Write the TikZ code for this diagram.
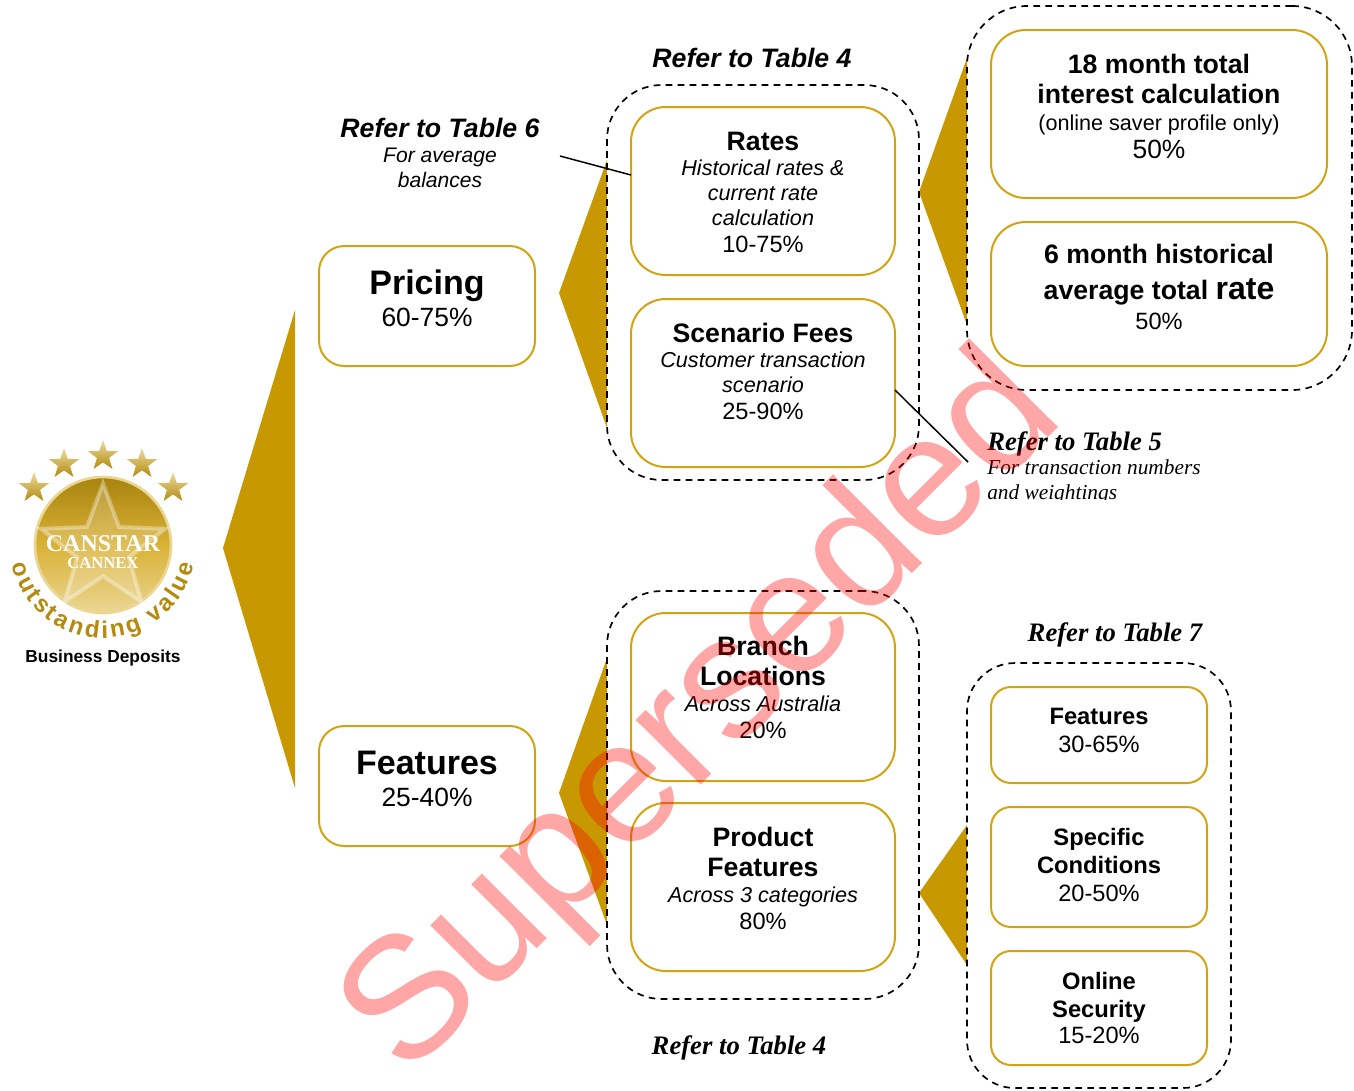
\documentclass[tikz,border=0pt]{standalone}
\usepackage{fontspec}
\setmainfont{Liberation Sans}
\newfontfamily\serifx{Liberation Serif}
\usetikzlibrary{shapes.geometric,decorations.text}
\definecolor{gold}{HTML}{C89800}
\definecolor{goldline}{HTML}{D2A412}
\newcommand\NS{\spaceskip=.278em\relax}
\newcommand\FB{\fontsize{20}{22.5}\selectfont\upshape\bfseries\NS}
\newcommand\FBB{\fontsize{25.5}{27}\selectfont\upshape\bfseries\NS}
\newcommand\FI{\fontsize{16.2}{18.75}\selectfont\mdseries\itshape\NS}
\newcommand\FP{\fontsize{17.7}{19.5}\selectfont\mdseries\upshape\NS}
\newcommand\FPP{\fontsize{19.8}{20}\selectfont\mdseries\upshape\NS}
\newcommand\FT{\fontsize{17.8}{21}\selectfont\upshape\bfseries\NS}
\newcommand\FR{\fontsize{16.2}{18.75}\selectfont\mdseries\upshape\NS}
\newcommand\dnx[1]{\rule[-#1pt]{0pt}{0pt}}
\newcommand\upx[1]{\rule{0pt}{#1pt}}
\tikzset{
  box/.style={draw=goldline,line width=1.5pt,fill=white,inner sep=0pt,outer sep=0pt,align=center,text width=190pt,font=\fontsize{17.7}{20}\selectfont},
  bigr/.style={box,rounded corners=19pt,minimum width=162pt,minimum height=90pt,text width=150pt},
  midr/.style={box,rounded corners=26pt,minimum width=198pt,minimum height=126pt},
  wider/.style={box,rounded corners=26pt,minimum width=252pt,text width=240pt},
  smallr/.style={box,rounded corners=15pt,minimum width=162pt,text width=150pt},
  dash group/.style={draw=black,line width=1.25pt,dash pattern=on 5pt off 4pt,inner sep=0pt,outer sep=0pt},
  tri/.style={fill=gold,draw=none},
  leader/.style={draw=black,line width=1.1pt},
  refsans/.style={font=\fontsize{20}{22}\selectfont\bfseries\itshape,inner sep=0pt,align=center},
  subsans/.style={font=\fontsize{15.8}{18.75}\selectfont\itshape,inner sep=0pt,align=center},
  refserif/.style={font=\serifx\fontsize{20}{22}\selectfont\bfseries\itshape,inner sep=0pt},
  subserif/.style={font=\serifx\fontsize{16}{18.75}\selectfont\itshape,inner sep=0pt,align=left},
  logostar/.style={star,star points=5,star point ratio=2.5,inner sep=0pt,minimum size=24pt,
     top color=#1,bottom color=goldline!85!black,draw=none},
}
\begin{document}
\begin{tikzpicture}[x=.75pt,y=-.75pt]
\useasboundingbox (0,0) rectangle (1354,1090);
\fill[white] (0,0) rectangle (1354,1090);

% triangles
\fill[tri] (295,310) -- (223,548) -- (295,788) -- cycle;
\fill[tri] (607,160) -- (559,293) -- (607,428) -- cycle;
\fill[tri] (607,658) -- (559,793) -- (607,925) -- cycle;
\fill[tri] (967,58) -- (919,192) -- (967,325) -- cycle;
\fill[tri] (967,825) -- (919,893) -- (967,965) -- cycle;

% dashed groups
\node[dash group,rounded corners=41pt,minimum width=234pt,minimum height=296.25pt] (g1) at (763,282.5) {};
\node[dash group,rounded corners=41pt,minimum width=234pt,minimum height=306pt] (g2) at (763,795) {};
\node[dash group,rounded corners=45pt,minimum width=288.75pt,minimum height=288pt] (g3) at (1159.5,198) {};
\node[dash group,rounded corners=36pt,minimum width=198pt,minimum height=318.75pt] (g4) at (1099,875.5) {};

% boxes
\node[bigr] (pricing) at (427,306) {\FBB Pricing\\[4pt]\FPP 60-75\%\dnx{11.5}};
\node[bigr] (features) at (427,786) {\FBB Features\\[4pt]\FPP 25-40\%\dnx{11.5}};
\node[midr] (rates) at (763,191) {\upx{16}\FB Rates\\\FI Historical rates \&\\current rate\\calculation\\\FP 10-75\%};
\node[midr] (fees) at (763,383) {\FB Scenario Fees\\\FI Customer transaction\\scenario\\\FP 25-90\%\dnx{17.5}};
\node[midr] (branch) at (763,697) {\FB Branch\\Locations\\[1pt]\FI Across Australia\\\FP 20\%\dnx{14.5}};
\node[midr] (product) at (763,887) {\FB Product\\Features\\[1pt]\FI Across 3 categories\\\FP 80\%\dnx{13}};
\node[wider,minimum height=126pt] (month18) at (1159,114) {\FB 18 month total\\interest calculation\\[1.5pt]\FR (online saver profile only)\\[.75pt]\FPP 50\%\dnx{11.75}};
\node[wider,minimum height=108pt] (month6) at (1159,294) {\FB 6 month historical\\[4.5pt]average total {\fontsize{24}{26}\selectfont\NS rate}\\[2.5pt]\FP 50\%\dnx{10.5}};
\node[smallr,minimum height=72pt] (feat) at (1099,735) {\FT Features\\[1.5pt]\FP 30-65\%\dnx{7}};
\node[smallr,minimum height=90pt] (spec) at (1099,867) {\FT Specific\\Conditions\\[.75pt]\FP 20-50\%\dnx{3.5}};
\node[smallr,minimum height=85.5pt] (online) at (1099,1008) {\FT Online\\Security\\\FP 15-20\%};

% labels
\node[refsans] (t4a) at (752,58) {Refer to Table 4};
\node[refsans] (t6) at (440,128) {Refer to Table 6};
\node[subsans] (t6s) at (440,167.5) {For average\\balances};
\begin{scope}
\clip (980,420) rectangle (1220,499.5);
\node[refserif,anchor=base west] (t5) at (987,450) {Refer to Table 5};
\node[subserif,anchor=base west] (t5a) at (987,474) {For transaction numbers};
\node[subserif,anchor=base west] (t5b) at (987,499) {and weightings};
\end{scope}
\node[refserif] (t7) at (1115,635) {Refer to Table 7};
\node[refserif] (t4b) at (739,1048) {Refer to Table 4};

% leaders
\coordinate (lead6) at (560,156);
\coordinate (lead5) at (968,462);
\draw[leader] (lead6) -- ([yshift=12pt]rates.west);
\draw[leader] ([yshift=-5.25pt]fees.east) -- (lead5);

% logo
\begin{scope}[shift={(103,545)},y=.75pt]
  \node[circle,minimum size=102pt,inner sep=0pt,draw=goldline!45!white,line width=2pt,
        top color=goldline!80!black,bottom color=goldline!45!white,middle color=goldline!85!white] (seal) at (0,0) {};
  \node[star,star points=5,star point ratio=2.4,minimum size=98pt,inner sep=0pt,
        draw=white,draw opacity=.35,line width=3pt,fill=white,fill opacity=.18] (sealstar) at (0,-4) {};
  \node[inner sep=0pt,text=white,font=\serifx\fontsize{18}{18}\selectfont\bfseries] (canstar) at (0,1) {CANSTAR};
  \node[inner sep=0pt,text=white,font=\serifx\fontsize{12.5}{12}\selectfont\bfseries] (cannex) at (0,-18) {CANNEX};
  \node[logostar=goldline!40!white] (s1) at (-69,57) {};
  \node[logostar=goldline!40!white] (s2) at (-39,81) {};
  \node[logostar=goldline!40!white] (s3) at (0,89) {};
  \node[logostar=goldline!40!white] (s4) at (39,81) {};
  \node[logostar=goldline!40!white] (s5) at (70,57) {};
  \path[decorate,decoration={text along path,text align={fit to path},
     text={|\fontsize{18}{18}\selectfont\bfseries\color{goldline!85!black}|outstanding value}}]
     (192:93) arc[start angle=192,end angle=348,radius=93];
\end{scope}
\node[inner sep=0pt,font=\fontsize{13}{14}\selectfont\bfseries] (bd) at (103,658) {Business Deposits};

% watermark
\node[anchor=base west,inner sep=0pt,rotate=45,text=red,opacity=.35,font=\fontsize{130}{130}\selectfont] (wm) at (406,1080) {Superseded};
\end{tikzpicture}
\end{document}
